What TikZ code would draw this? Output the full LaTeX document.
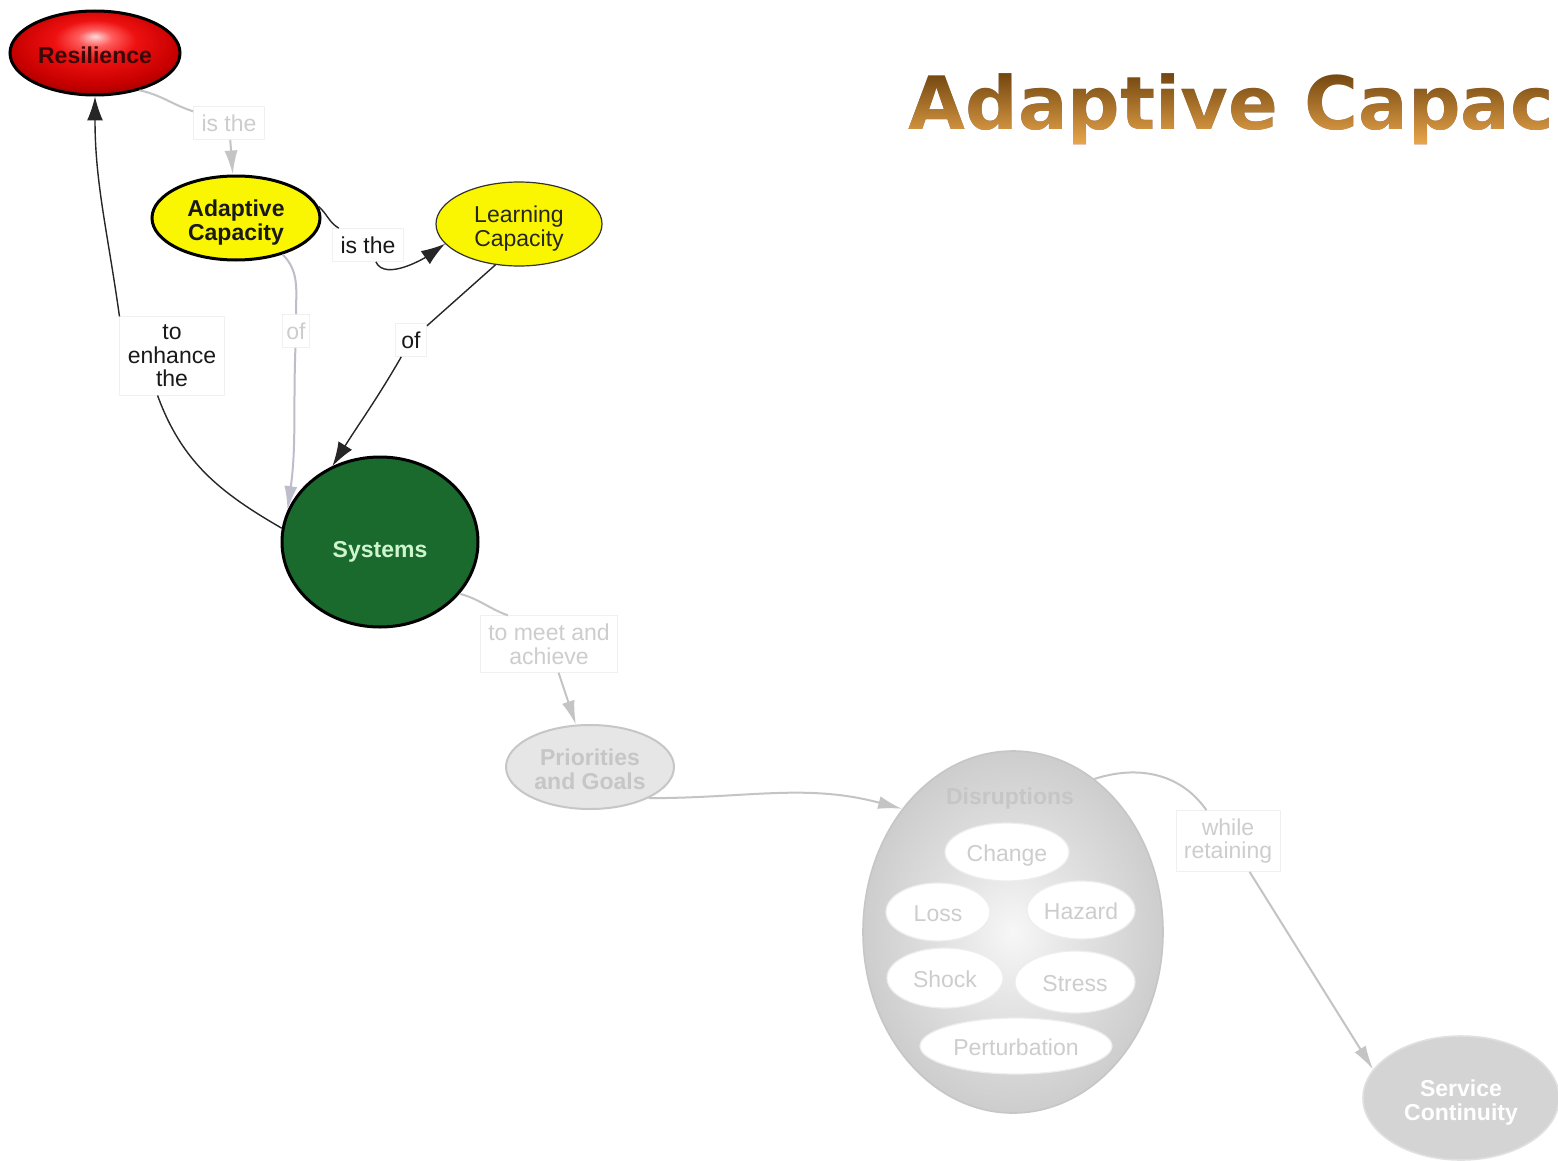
\documentclass[tikz,border=0pt]{standalone}
\usepackage{fontspec}
\setmainfont{Liberation Sans}
\newfontfamily\headfamily{DejaVu Sans}
\usetikzlibrary{shapes.geometric,arrows.meta}

% palette
\definecolor{resHi}{HTML}{FFD8D8}
\definecolor{resMid}{HTML}{FF5C5C}
\definecolor{resRed}{HTML}{EE1111}
\definecolor{resDeep}{HTML}{C80000}
\definecolor{resDark}{HTML}{8A0000}
\definecolor{resText}{HTML}{3A0808}
\definecolor{yel}{HTML}{FAF500}
\definecolor{sysGreen}{HTML}{1A6A2E}
\definecolor{sysText}{HTML}{CFF5CF}
\definecolor{fadeLine}{HTML}{C4C4C4}
\definecolor{fadeText}{HTML}{CDCDCD}
\definecolor{lavLine}{HTML}{BDBDCC}
\definecolor{priFill}{HTML}{E6E6E6}
\definecolor{priEdge}{HTML}{C6C6C6}
\definecolor{disC}{HTML}{F7F7F7}
\definecolor{disM}{HTML}{E6E6E6}
\definecolor{disE}{HTML}{CDCDCD}
\definecolor{servFill}{HTML}{D4D4D4}
\definecolor{ttlDark}{HTML}{744710}
\definecolor{ttlMid}{HTML}{BF7C2E}
\definecolor{ttlLight}{HTML}{EBA84C}

% glossy red fill with a highlight above the centre
\pgfdeclareradialshading{resglow}{\pgfpoint{0bp}{10bp}}{%
  color(0bp)=(resHi); color(5bp)=(resMid); color(12bp)=(resRed);
  color(24bp)=(resDeep); color(34bp)=(resDark); color(50bp)=(resDark)}
% soft grey fill, lightest in the middle
\pgfdeclareradialshading{disglow}{\pgfpoint{0bp}{0bp}}{%
  color(0bp)=(disC); color(9bp)=(disM); color(25bp)=(disE); color(50bp)=(disE)}

\newcommand\txtsize{\fontsize{11.5}{11.8}\selectfont}

\tikzset{
  concept/.style={ellipse, inner sep=0pt, align=center, font=\txtsize},
  twoline/.style={text height=22pt, text depth=0pt},
  inner/.style={ellipse, inner sep=0pt, fill=white, draw=black!7, line width=0.6pt,
                text=fadeText, font=\txtsize, text height=9pt, text depth=0pt},
  linkbox/.style={rectangle, fill=white, draw=black!6, line width=0.4pt,
                  inner xsep=4pt, inner ysep=4pt, align=center, font=\txtsize},
  blkline/.style={draw=black!85, line width=0.7pt},
  blkarrow/.style={blkline, -{Latex[length=12pt,width=8pt]}},
  fadeline/.style={draw=fadeLine, line width=1pt},
  fadearrow/.style={fadeline, -{Latex[length=12pt,width=6.5pt]}},
  lavline/.style={draw=lavLine, line width=1pt},
  lavarrow/.style={lavline, -{Latex[length=12pt,width=6.5pt]}}
}

\begin{document}
\begin{tikzpicture}[x=0.5pt,y=-0.5pt]
\useasboundingbox (0,0) rectangle (1558,1161);
\clip (0,0) rectangle (1558,1161);
\fill[white] (0,0) rectangle (1558,1161);

% heading, dark text lifted to a brown-to-orange ramp
\node[font=\headfamily\bfseries\fontsize{36.8}{40}\selectfont, text=ttlDark,
      anchor=base west, inner sep=0pt] (title) at (908,130) {Adaptive Capac};
\begin{scope}[blend mode=lighten]
  \shade[top color=ttlDark, middle color=ttlMid, bottom color=ttlLight]
    (title.north west) rectangle (title.south east);
\end{scope}

% concepts
\node[concept, shade, shading=resglow, draw=black, line width=1.5pt,
      minimum width=85pt, minimum height=42pt, text=resText,
      text height=11pt, text depth=0pt,
      font=\txtsize\bfseries] (res) at (95,53) {Resilience};
\node[concept, twoline, fill=yel, draw=black, line width=1.5pt,
      minimum width=84pt, minimum height=42pt, text=black!90,
      font=\txtsize\bfseries] (ac) at (236,218) {Adaptive\\Capacity};
\node[concept, twoline, fill=yel, draw=black!80, line width=0.6pt,
      minimum width=83pt, minimum height=42pt, text=black!85] (lc) at (519,224) {Learning\\Capacity};
\node[concept, fill=sysGreen, draw=black, line width=1.5pt,
      minimum width=98pt, minimum height=85pt, text=sysText,
      text height=15pt, text depth=0pt,
      font=\txtsize\bfseries] (sys) at (380,542) {Systems};
\node[concept, twoline, fill=priFill, draw=priEdge, line width=1pt,
      minimum width=84pt, minimum height=42pt, text=priEdge,
      font=\txtsize\bfseries] (pri) at (590,767) {Priorities\\and Goals};
\node[concept, shade, shading=disglow, draw=priEdge, line width=0.8pt,
      minimum width=150pt, minimum height=181pt] (dis) at (1013,932) {};
\node[font=\txtsize\bfseries, text=priEdge] (distitle) at (1010,799) {Disruptions};
\node[inner, minimum width=62pt, minimum height=29pt] (change) at (1007,852) {Change};
\node[inner, minimum width=52pt, minimum height=29pt] (loss) at (938,912) {Loss};
\node[inner, minimum width=54pt, minimum height=29pt] (hazard) at (1081,910) {Hazard};
\node[inner, minimum width=58pt, minimum height=30pt] (shock) at (945,978) {Shock};
\node[inner, minimum width=60pt, minimum height=31pt] (stress) at (1075,982) {Stress};
\node[inner, minimum width=96pt, minimum height=28pt] (pert) at (1016,1046) {Perturbation};
\node[concept, twoline, fill=servFill, draw=black!12, line width=0.8pt,
      minimum width=98pt, minimum height=62pt, text=white,
      font=\txtsize\bfseries] (serv) at (1461,1098) {Service\\Continuity};

% linking phrases
\node[linkbox, text=fadeText] (l1) at (229,123) {is the};
\node[linkbox, text=black!90] (l2) at (368,245) {is the};
\node[linkbox, text=fadeText, inner xsep=2pt] (l3) at (296,331) {of};
\node[linkbox, text=black!90, inner xsep=3pt] (l4) at (411,340) {of};
\node[linkbox, text=black!90] (l5) at (172,356) {to\\enhance\\the};
\node[linkbox, text=fadeText] (l6) at (549,644) {to meet and\\achieve};
\node[linkbox, text=fadeText] (l8) at (1228,841) {while\\retaining};

% connections
\draw[fadeline] (res.-40) to[out=-12, in=162] (l1);
\draw[fadearrow] (l1) -- (ac);

\draw[blkline] (ac.8) to[out=-40, in=150] (l2);
\draw[blkarrow] (l2) to[out=-65, in=-145, looseness=0.8] (lc.-165);

\draw[lavline] (ac.-38) to[out=-45, in=90] (l3);
\draw[lavarrow] (l3) to[out=-92, in=82] (sys.161);

\draw[blkline] (lc.-120) -- (l4);
\draw[blkarrow] (l4) to[out=-120, in=58] (sys.122);

\draw[blkline] (sys.172) to[out=150, in=-70] (l5.-110);
\draw[blkarrow] (l5.north west) to[out=98, in=-90] (res.south);

\draw[fadeline] (sys.-33) to[out=-15, in=160] ([xshift=14pt]l6.north west);
\draw[fadearrow] (l6) -- (pri);

\draw[fadearrow] (pri.-28) to[out=0, in=165] (dis.132);

\draw[fadeline] (dis.62) to[out=18, in=125] (l8);
\draw[fadearrow] (l8.-55) -- (serv.162);
\end{tikzpicture}
\end{document}
